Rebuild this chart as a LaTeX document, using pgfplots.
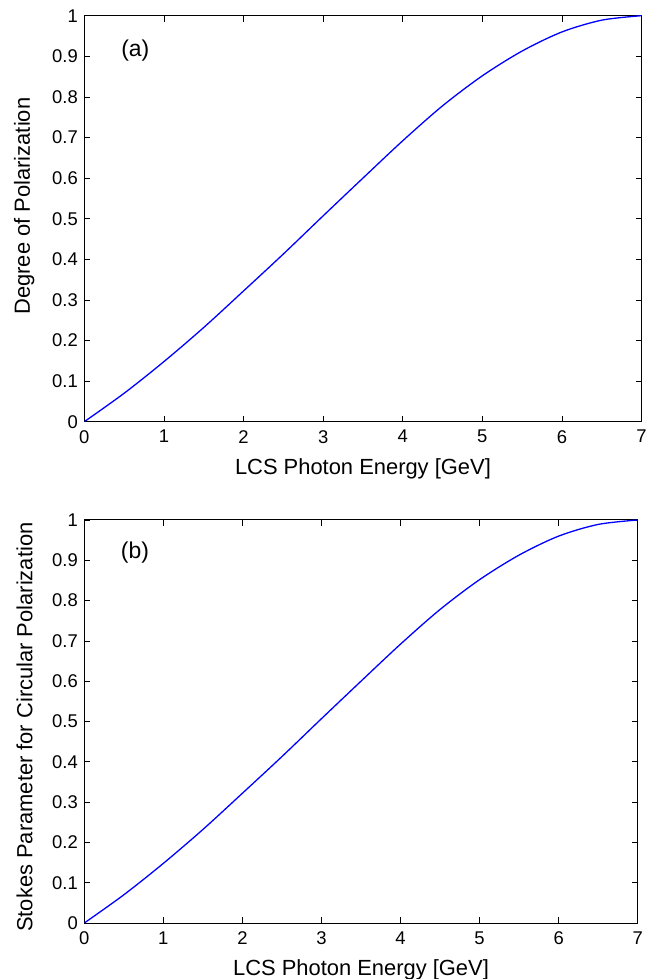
\documentclass[border=0pt]{standalone}
\usepackage{fontspec}
\setmainfont{Liberation Sans}
\usepackage{pgfplots}
\pgfplotsset{compat=1.18}

\pgfplotsset{
  lcs/.style={
    scale only axis,
    xmin=0, xmax=7, ymin=0, ymax=1,
    xtick={0,1,...,7},
    ytick={0,0.1,0.2,0.3,0.4,0.5,0.6,0.7,0.8,0.9,1},
    yticklabels={0,0.1,0.2,0.3,0.4,0.5,0.6,0.7,0.8,0.9,1},
    tick align=inside,
    major tick length=6bp,
    tick style={black, line width=0.6bp},
    axis line style={black, line width=1bp},
    tick label style={font=\fontsize{18.5}{21}\selectfont},
    xticklabel style={yshift=-5bp},
    yticklabel style={xshift=-3bp},
    label style={font=\fontsize{22}{25}\selectfont},
    /pgf/number format/assume math mode=true,
    xlabel={LCS Photon Energy [GeV]},
    xlabel style={at={(axis description cs:0.5,0)}, anchor=center, yshift=-47bp},
  },
}

\begin{document}
\begin{tikzpicture}
\useasboundingbox (0bp,0bp) rectangle (651bp,979bp);

% (a)
\begin{axis}[lcs,
  at={(84.3bp,557.3bp)}, anchor=south west,
  width=557.3bp, height=406bp,
  ylabel={Degree of Polarization},
  ylabel style={at={(axis description cs:-0.108,0.531)}, anchor=center},
]
\addplot[color=blue, line width=1.3bp, smooth] coordinates {
(0,0) (0.5,0.070) (1,0.148) (1.5,0.232) (2,0.322) (2.5,0.413) (3,0.507)
(3.5,0.600) (4,0.692) (4.5,0.778) (5,0.852) (5.5,0.913) (6,0.960) (6.5,0.989) (7,1.000)};
\node[font=\fontsize{23}{26}\selectfont] at (axis cs:0.64,0.915) {(a)};
\end{axis}

% (b)
\begin{axis}[lcs,
  at={(84.3bp,56bp)}, anchor=south west,
  width=553.4bp, height=403bp,
  ylabel={Stokes Parameter for Circular Polarization},
  ylabel style={at={(axis description cs:-0.108,0.486)}, anchor=center},
]
\addplot[color=blue, line width=1.3bp, smooth] coordinates {
(0,0) (0.5,0.070) (1,0.148) (1.5,0.232) (2,0.322) (2.5,0.413) (3,0.507)
(3.5,0.600) (4,0.692) (4.5,0.778) (5,0.852) (5.5,0.913) (6,0.960) (6.5,0.989) (7,1.000)};
\node[font=\fontsize{23}{26}\selectfont] at (axis cs:0.64,0.918) {(b)};
\end{axis}
\end{tikzpicture}
\end{document}
